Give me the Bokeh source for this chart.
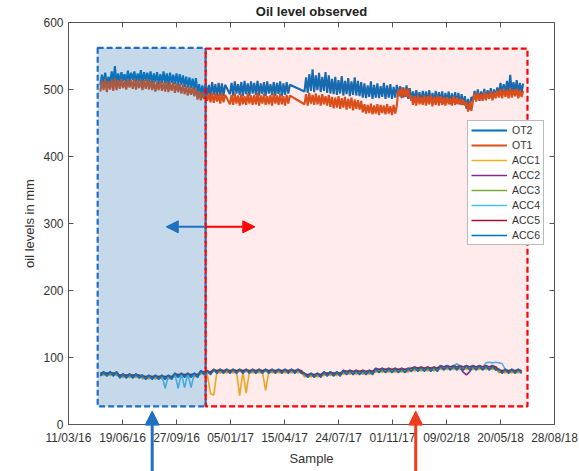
import pandas as pd
from bokeh.plotting import figure
from bokeh.models import (Range1d, DatetimeAxis, LinearAxis, FixedTicker, DatetimeTickFormatter,
                          BoxAnnotation, Arrow, NormalHead, Legend, LegendItem, Label)
from bokeh.embed import file_html
from bokeh.resources import INLINE

nan = float("nan")

# ---------------- data ----------------
# OT sensors: one reading every 3 days; ACC sensors: one reading every 6 days
ot_start, ot_step, ot_count = "2016-05-09", "3D", 262
acc_start, acc_step, acc_count = "2016-05-09", "6D", 131

ot2 = [506, 522, 508, 525, 505, 519, 509, 527, 511, 535,
       507, 524, 511, 526, 513, 523, 510, 528, 512, 525,
       514, 527, 511, 524, 512, 529, 510, 526, 513, 525,
       511, 527, 509, 524, 511, 526, 508, 523, 510, 527,
       509, 524, 507, 525, 510, 522, 508, 524, 506, 523,
       507, 521, 504, 519, 503, 518, 502, 516, 500, 517,
       494, 508, 492, 506, 493, 509, 491, 507, 490, 511,
       492, 508, 489, 510, 491, 509, 490, 507, nan, nan,
       493, 510, 491, 512, 494, 508, 492, 511, 490, 513,
       493, 509, 491, 512, 494, 510, 492, 513, 491, 509,
       493, 511, 490, 512, 494, 508, 492, 511, 491, 510,
       493, 512, 490, 509, 492, 511, 494, 507, nan, nan,
       nan, nan, nan, nan, nan, nan, 497, 518, 495, 523,
       498, 530, 496, 521, 499, 525, 496, 519, 498, 526,
       495, 521, 494, 516, 493, 519, 492, 514, 494, 520,
       491, 513, 493, 517, 490, 512, 492, 518, 491, 513,
       490, 511, 488, 509, 487, 506, 489, 512, 486, 507,
       488, 509, 487, 505, 489, 510, 486, 506, 488, 508,
       486, 504, 488, 507, 490, 505, 487, 503, 489, 506,
       486, 502, 483, 497, 481, 499, 484, 496, 480, 498,
       482, 497, 481, 499, 483, 495, 480, 498, 482, 496,
       481, 497, 479, 495, 481, 497, 478, 494, 480, 496,
       479, 495, 478, 493, 477, 490, 471, 486, 470, 489,
       484, 498, 485, 500, 483, 497, 486, 501, 484, 499,
       487, 502, 486, 500, 488, 503, 492, 510, 494, 508,
       493, 513, 495, 522, 494, 511, 496, 514, 493, 510,
       495, 509]

ot1 = [497, 513, 499, 516, 496, 512, 500, 515, 498, 517,
       499, 514, 501, 516, 502, 513, 500, 515, 503, 514,
       501, 516, 500, 513, 502, 515, 499, 514, 501, 516,
       500, 513, 499, 512, 497, 511, 499, 513, 498, 510,
       497, 512, 496, 510, 498, 511, 495, 509, 496, 508,
       494, 507, 493, 505, 491, 504, 492, 503, 490, 502,
       485, 497, 484, 496, 486, 495, 483, 494, 481, 495,
       480, 494, 482, 493, 479, 495, 481, 492, nan, nan,
       478, 492, 477, 494, 479, 491, 476, 493, 478, 490,
       477, 494, 479, 491, 477, 492, 478, 495, 476, 491,
       479, 493, 477, 490, 478, 492, 476, 494, 479, 491,
       477, 493, 478, 490, 476, 492, 479, 491, nan, nan,
       nan, nan, nan, nan, nan, nan, 478, 493, 476, 495,
       479, 492, 477, 494, 478, 491, 476, 493, 478, 490,
       476, 492, 474, 489, 472, 488, 473, 490, 471, 487,
       473, 489, 470, 486, 472, 488, 469, 485, 471, 484,
       470, 483, 466, 478, 464, 477, 465, 479, 463, 476,
       464, 478, 462, 477, 465, 476, 463, 478, 464, 475,
       462, 477, 464, 476, 500, 490, 503, 488, 501, 489,
       502, 487, 491, 477, 490, 476, 492, 478, 489, 477,
       491, 476, 490, 478, 492, 475, 489, 477, 491, 476,
       490, 477, 488, 476, 489, 478, 487, 476, 490, 477,
       488, 478, 486, 477, 485, 476, 481, 467, 482, 468,
       483, 494, 482, 495, 484, 493, 483, 496, 485, 494,
       486, 497, 484, 496, 487, 498, 488, 500, 487, 501,
       489, 499, 487, 502, 488, 500, 490, 501, 487, 499,
       489, 498]

acc1 = [75, 73, 75, 73, 75, 73,
        72, 70, 72, 70, 72, 70, 72,
        68, 70, 68, 70, 68, 70, 68, 70, 68, 70,
        71, 73, 71, 73, 71, 73, 71, 73,
        75, 77, 75, 46,
        44, 79, 77, 79, 77, 79, 77, 79, 43, 79, 47, 79, 77, 79,
        77, 79, 51, 79, 77, 79, 77, 79, 77, 79, 77, 79, 77, 79,
        71, 73, 71, 73, 71, 73,
        73, 75, 73, 75, 73, 75,
        75, 77, 75, 77, 75, 77, 75, 77, 75, 77,
        78, 80, 78, 80, 78, 80, 78, 80, 78, 80, 78,
        82, 80, 82, 80, 82, 80, 82, 80, 82,
        82, 84, 82, 84, 82, 84, 82, 84, 82, 84, 82, 84, 82, 84, 82, 84, 82, 84,
        77, 79, 77, 79, 77, 79, 77, 79]

acc2 = [74, 76, 74, 76, 74, 76,
        71, 73, 71, 73, 71, 73, 71,
        71, 69, 71, 69, 71, 69, 71, 69, 71, 69,
        74, 72, 74, 72, 74, 72, 74, 72,
        78, 76, 78, 76,
        80, 78, 80, 78, 80, 78, 80, 78, 80, 78, 80, 78, 80, 78,
        80, 78, 80, 78, 80, 78, 80, 78, 80, 78, 80, 78, 80, 78,
        74, 72, 74, 72, 74, 72,
        76, 74, 76, 74, 76, 74,
        78, 76, 78, 76, 78, 76, 78, 76, 78, 76,
        81, 79, 81, 79, 81, 79, 81, 79, 81, 79, 81,
        81, 83, 81, 83, 81, 83, 81, 83, 81,
        85, 83, 85, 83, 85, 83, 85, 78, 74, 79, 85, 83, 85, 83, 85, 83, 85, 83,
        80, 78, 80, 78, 80, 78, 80, 78]

acc3 = [77, 75, 77, 75, 77, 75,
        74, 72, 74, 72, 74, 72, 74,
        70, 72, 70, 72, 70, 72, 70, 72, 70, 72,
        73, 75, 73, 75, 73, 75, 73, 75,
        77, 79, 77, 79,
        79, 81, 79, 81, 79, 81, 79, 81, 79, 81, 79, 81, 79, 81,
        79, 81, 79, 81, 79, 81, 79, 81, 79, 81, 79, 81, 79, 81,
        73, 75, 73, 75, 73, 75,
        75, 77, 75, 77, 75, 77,
        77, 79, 77, 79, 77, 79, 77, 79, 77, 79,
        80, 82, 80, 82, 80, 82, 80, 82, 80, 82, 80,
        84, 82, 84, 82, 84, 82, 84, 82, 84,
        84, 86, 84, 86, 84, 86, 84, 86, 84, 86, 84, 86, 84, 86, 84, 86, 84, 86,
        79, 81, 79, 81, 79, 81, 79, 81]

acc4 = [76, 78, 76, 78, 76, 78,
        73, 75, 73, 75, 73, 75, 73,
        73, 71, 73, 71, 73, 71, 73, 54, 73, 71,
        76, 54, 76, 55, 76, 55, 76, 74,
        80, 78, 80, 78,
        82, 80, 82, 80, 82, 80, 82, 80, 82, 80, 82, 80, 82, 80,
        82, 80, 82, 80, 82, 80, 82, 80, 82, 80, 82, 80, 82, 80,
        76, 74, 76, 74, 76, 74,
        78, 76, 78, 76, 78, 76,
        80, 78, 80, 78, 80, 78, 80, 78, 80, 78,
        83, 81, 83, 81, 83, 81, 83, 81, 83, 81, 83,
        83, 85, 83, 85, 83, 85, 83, 85, 83,
        87, 85, 87, 85, 87, 91, 87, 85, 87, 85, 87, 85, 87, 85, 92, 93, 92, 93,
        92, 91, 82, 80, 82, 80, 82, 80]

acc5 = [76, 78, 76, 78, 76, 78,
        73, 75, 73, 75, 73, 75, 73,
        73, 71, 73, 71, 73, 71, 73, 71, 73, 71,
        76, 74, 76, 74, 76, 74, 76, 74,
        80, 78, 80, 78,
        82, 80, 82, 80, 82, 80, 82, 80, 82, 80, 82, 80, 82, 80,
        82, 80, 82, 80, 82, 80, 82, 80, 82, 80, 82, 80, 82, 80,
        76, 74, 76, 74, 76, 74,
        78, 76, 78, 76, 78, 76,
        81, 79, 81, 79, 81, 79, 81, 79, 81, 79,
        84, 82, 84, 82, 84, 82, 84, 82, 84, 82, 84,
        84, 86, 84, 86, 84, 86, 84, 86, 84,
        88, 86, 88, 86, 88, 86, 88, 86, 88, 86, 88, 86, 88, 86, 88, 86, 88, 86,
        82, 80, 82, 80, 82, 80, 82, 80]

acc6 = [72, 79, 72, 79, 72, 79,
        69, 76, 69, 76, 69, 76, 69,
        74, 67, 74, 67, 74, 67, 74, 67, 74, 67,
        77, 70, 77, 70, 77, 70, 77, 70,
        81, 74, 81, 74,
        83, 76, 83, 76, 83, 76, 83, 76, 83, 76, 83, 76, 83, 76,
        83, 76, 83, 76, 83, 76, 83, 76, 83, 76, 83, 76, 83, 76,
        77, 70, 77, 70, 77, 70,
        79, 72, 79, 72, 79, 72,
        81, 74, 81, 74, 81, 74, 81, 74, 81, 74,
        84, 77, 84, 77, 84, 77, 84, 77, 84, 77, 84,
        79, 86, 79, 86, 79, 86, 79, 86, 79,
        88, 81, 88, 81, 88, 81, 88, 81, 88, 81, 88, 81, 88, 81, 88, 81, 88, 81,
        83, 76, 83, 76, 83, 76, 83, 76]

series_names = ["OT2", "OT1", "ACC1", "ACC2", "ACC3", "ACC4", "ACC5", "ACC6"]
series_colors = ["#0072BD", "#D95319", "#EDB120", "#7E2F8E", "#77AC30", "#4DBEEE", "#A2142F", "#0072BD"]

tick_dates = ["2016-03-11", "2016-06-19", "2016-09-27", "2017-01-05", "2017-04-15",
              "2017-07-24", "2017-11-01", "2018-02-09", "2018-05-20", "2018-08-28"]
y_ticks = [0, 100, 200, 300, 400, 500, 600]
title_text = "Oil level observed"

# ---------------- figure ----------------
FONT = "Liberation Sans"
AXC = "#555555"
TXC = "#333333"
DAY = 86400000.0


def ms(d):
    return pd.Timestamp(d).value / 1e6


x_tick_ms = [ms(d) for d in tick_dates]

# axes box: left edge 68 px, right edge 554 px, 0 at 424 px, 600 at 22 px
W, H = 579, 471
px_per_day = 486 / 900.0
px_per_unit = 402 / 600.0
x_lo = x_tick_ms[0] - 68 / px_per_day * DAY
x_hi = x_tick_ms[-1] + (W - 554) / px_per_day * DAY
y_lo = -(H - 424) / px_per_unit
y_hi = 600 + 22 / px_per_unit

p = figure(width=W, height=H, output_backend="svg", toolbar_location=None,
           x_axis_type=None, y_axis_type=None,
           x_range=Range1d(start=x_lo, end=x_hi), y_range=Range1d(start=y_lo, end=y_hi),
           min_border_left=0, min_border_right=0, min_border_top=0, min_border_bottom=0,
           background_fill_color="white", border_fill_color="white", outline_line_color=None)

fmt = "%d/%m/%y"
dt_fmt = DatetimeTickFormatter(microseconds=fmt, milliseconds=fmt, seconds=fmt, minsec=fmt,
                               minutes=fmt, hourmin=fmt, hours=fmt, days=fmt, months=fmt, years=fmt)


def style_axis(ax):
    ax.axis_line_color = AXC
    ax.major_tick_line_color = AXC
    ax.minor_tick_line_color = None
    ax.major_tick_in = 5
    ax.major_tick_out = 0
    ax.major_label_text_font = FONT
    ax.major_label_text_color = TXC
    ax.major_label_text_font_size = "12px"
    ax.axis_label_text_font = FONT
    ax.axis_label_text_color = TXC
    ax.axis_label_text_font_style = "normal"
    ax.axis_label_text_font_size = "13px"


xb = DatetimeAxis(ticker=FixedTicker(ticks=x_tick_ms), formatter=dt_fmt, axis_label="Sample",
                  fixed_location=0, bounds=(x_tick_ms[0], x_tick_ms[-1]))
style_axis(xb)
xb.major_label_standoff = 6
xb.axis_label_standoff = 3
p.add_layout(xb, "below")

yl = LinearAxis(ticker=FixedTicker(ticks=y_ticks), axis_label="oil levels in mm",
                fixed_location=x_tick_ms[0], bounds=(0, 600))
style_axis(yl)
yl.major_label_standoff = 5
yl.axis_label_standoff = 3
p.add_layout(yl, "left")

# top and right edges of the axes box, with inward ticks
TICK_PX = 5
p.segment(x0=[x_tick_ms[0], x_tick_ms[-1]], y0=[600, 0], x1=[x_tick_ms[-1], x_tick_ms[-1]], y1=[600, 600],
          line_color=AXC, line_width=1)
p.segment(x0=x_tick_ms, y0=[600] * len(x_tick_ms), x1=x_tick_ms,
          y1=[600 - TICK_PX / px_per_unit] * len(x_tick_ms), line_color=AXC, line_width=1)
p.segment(x0=[x_tick_ms[-1]] * len(y_ticks), y0=y_ticks,
          x1=[x_tick_ms[-1] - TICK_PX / px_per_day * DAY] * len(y_ticks), y1=y_ticks,
          line_color=AXC, line_width=1)

# title, centred over the axes box
p.add_layout(Label(x=(x_tick_ms[0] + x_tick_ms[-1]) / 2, y=y_hi - 11 / px_per_unit, text=title_text,
                   text_align="center", text_baseline="middle", text_font=FONT,
                   text_font_size="13px", text_font_style="bold", text_color="#222222"))

ot_dates = pd.date_range(ot_start, periods=ot_count, freq=ot_step)
acc_dates = pd.date_range(acc_start, periods=acc_count, freq=acc_step)
all_series = [ot2, ot1, acc1, acc2, acc3, acc4, acc5, acc6]
items = []
for name, col, vals in zip(series_names, series_colors, all_series):
    is_ot = name.startswith("OT")
    s = pd.Series(vals, index=ot_dates if is_ot else acc_dates, dtype=float).dropna()
    r = p.line(s.index, s.values, line_color=col, line_width=2.1 if is_ot else 1.6, line_join="bevel")
    items.append(LegendItem(label=name, renderers=[r]))

legend = Legend(items=items, location=(467, H - 245), orientation="vertical",
                label_text_font=FONT, label_text_font_size="10.5px", label_text_color=TXC,
                label_height=12, glyph_height=12, glyph_width=36, spacing=3, padding=3,
                margin=0, label_standoff=5, border_line_color="#777777", border_line_width=1,
                background_fill_color="white", background_fill_alpha=1.0)
p.add_layout(legend, "center")

# ---------------- annotations ----------------
blue_box = BoxAnnotation(left=ms("2016-05-04"), right=ms("2016-11-20"), bottom=27, top=562,
                         fill_color="#2a72b5", fill_alpha=0.27,
                         line_color="#1f6fc0", line_alpha=1.0, line_width=2.2, line_dash="6 3")
red_box = BoxAnnotation(left=ms("2016-11-20"), right=ms("2018-07-09"), bottom=27, top=561,
                        fill_color="#ff2020", fill_alpha=0.09,
                        line_color="#ff0000", line_alpha=1.0, line_width=2.2, line_dash="6 3")
p.add_layout(blue_box)
p.add_layout(red_box)

arrow_y = 295
p.add_layout(Arrow(end=NormalHead(size=12, fill_color="#1f6fc0", line_color="#1f6fc0"),
                   x_start=ms("2016-11-20"), y_start=arrow_y, x_end=ms("2016-09-08"), y_end=arrow_y,
                   line_color="#1f6fc0", line_width=2))
p.add_layout(Arrow(end=NormalHead(size=12, fill_color="#ff0000", line_color="#ff0000"),
                   x_start=ms("2016-11-20"), y_start=arrow_y, x_end=ms("2017-02-19"), y_end=arrow_y,
                   line_color="#ff0000", line_width=2))

p.add_layout(Arrow(end=NormalHead(size=14, fill_color="#1f6fc0", line_color="#1f6fc0"),
                   x_start=ms("2016-08-13"), y_start=-80, x_end=ms("2016-08-13"), y_end=20,
                   line_color="#1f6fc0", line_width=3))
p.add_layout(Arrow(end=NormalHead(size=14, fill_color="#f03c1e", line_color="#f03c1e"),
                   x_start=ms("2017-12-14"), y_start=-80, x_end=ms("2017-12-14"), y_end=20,
                   line_color="#f03c1e", line_width=3))

open("out.html", "w").write(file_html(p, INLINE))
